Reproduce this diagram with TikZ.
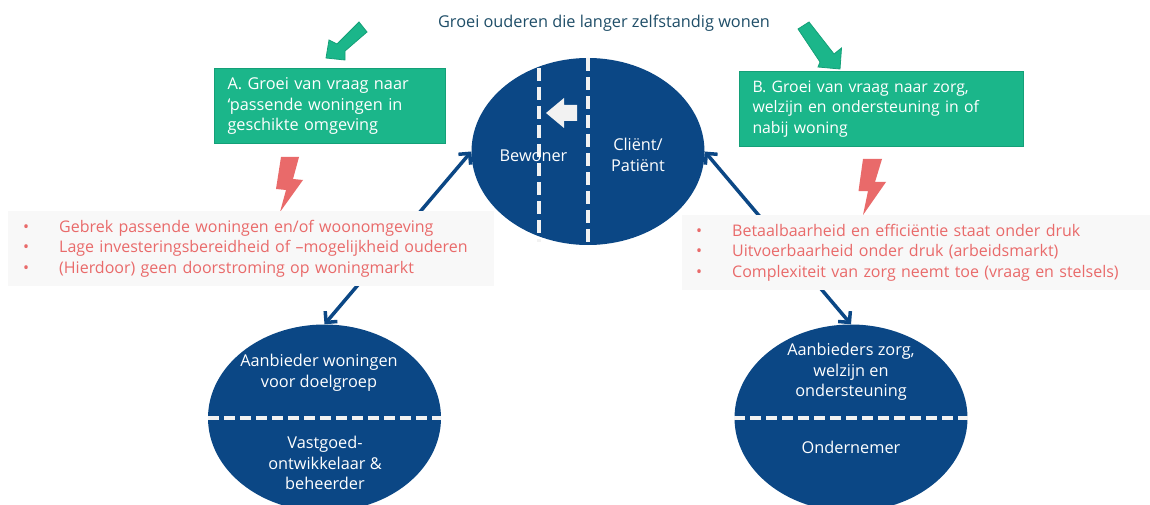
\documentclass[tikz,border=0pt]{standalone}
\usepackage{fontspec}
\setmainfont{Open Sans}
\usetikzlibrary{shapes.geometric,arrows.meta}
\definecolor{navy}{HTML}{0B4785}
\definecolor{grn}{HTML}{1BB68A}
\definecolor{grnd}{HTML}{14A078}
\definecolor{rd}{HTML}{E96A6A}
\definecolor{pale}{HTML}{F8F8F8}
\definecolor{ink}{HTML}{1F4E68}
\definecolor{dashw}{HTML}{F2F2F2}
\tikzset{
  txt/.style={font=\fontsize{16.3}{20.5}\selectfont,inner sep=0pt,align=left},
  blob/.style={ellipse,fill=navy,inner sep=0pt,minimum width=233pt,minimum height=187pt},
  blobtxt/.style={font=\fontsize{16.3}{20.5}\selectfont,inner sep=0pt,align=center,text=white},
  greenbox/.style={txt,draw=grnd,line width=1pt,fill=grn,text=white,anchor=north west,inner xsep=13pt},
  palebox/.style={txt,font=\fontsize{16}{20.5}\selectfont,fill=pale,text=rd,anchor=north west},
  link/.style={navy,line width=3.5pt,{Straight Barb[length=8pt,width=16pt,line width=3.5pt]}-{Straight Barb[length=8pt,width=16pt,line width=3.5pt]}},
  dashline/.style={dashw,line width=3.5pt,dash pattern=on 11pt off 5pt},
  bolt/.style={fill=rd},
  greenarrow/.style={fill=grn,draw=grnd,line width=.8pt},
}
\newcommand{\bul}{\makebox[36pt][l]{•}}
\begin{document}
\begin{tikzpicture}[x=1pt,y=-1pt]
\useasboundingbox (0,0) rectangle (1150,505);
\clip (0,0) rectangle (1150,505);
\fill[white] (0,0) rectangle (1150,505);
\node[blob] (top) at (588,151.5) {};
\node[blob] (bl) at (324.5,418) {};
\node[blob] (br) at (851,418) {};
\draw[link] (bl.north) -- (top.west);
\draw[link] (top.east) -- (br.north);
% dashed dividers
\coordinate (d1a) at (539,68);
\coordinate (d1b) at (539,242);
\draw[dashline,dash pattern=on 13pt off 6pt] (d1a) -- (d1b);
\draw[dashline,dash pattern=on 13pt off 6pt] (top.north) -- (top.south);
\draw[dashline] (bl.west) -- (bl.east);
\draw[dashline] (br.west) -- (br.east);
% white arrow
\fill[dashw] (546,113) -- (564,98) -- (564,105) -- (577,105) -- (577,121) -- (564,121) -- (564,128) -- cycle;
% green arrows
\draw[greenarrow] (359,22) -- (367,32) -- (345,51) -- (345,60) -- (326,58) -- (329,40) -- (337,44) -- cycle;
\draw[greenarrow] (809,22) -- (798,29) -- (820,62) -- (818,67) -- (840,69) -- (841.5,48) -- (834,54) -- cycle;
% lightning
\fill[bolt] (281,157) -- (299,157) -- (293,179) -- (303,180) -- (280,212) -- (286,190) -- (276,189) -- cycle;
\fill[bolt] (863,159) -- (882,159) -- (875,182) -- (886,182) -- (863,215) -- (868,191) -- (858.5,191) -- cycle;
% boxes
\node[greenbox,minimum width=231pt,minimum height=75pt,text width=205pt] (a) at (214,68) {A. Groei van vraag naar\\‘passende woningen in\\geschikte omgeving};
\node[greenbox,font=\fontsize{15.8}{20.5}\selectfont,minimum width=284pt,minimum height=75pt,text width=258pt] (b) at (739,71) {B. Groei van vraag naar zorg,\\welzijn en ondersteuning in of\\nabij woning};
\node[palebox,minimum width=486pt,minimum height=75pt,text width=456pt] (pl) at (8,211) {\bul Gebrek passende woningen en/of woonomgeving\\\bul Lage investeringsbereidheid of –mogelijkheid ouderen\\\bul (Hierdoor) geen doorstroming op woningmarkt};
\node[palebox,minimum width=468pt,minimum height=75pt,text width=440pt] (pr) at (682,215) {\bul Betaalbaarheid en efficiëntie staat onder druk\\\bul Uitvoerbaarheid onder druk (arbeidsmarkt)\\\bul Complexiteit van zorg neemt toe (vraag en stelsels)};
% texts
\node[txt,text=ink] (title) at (604,23) {Groei ouderen die langer zelfstandig wonen};
\node[blobtxt] (t1) at (533.5,156) {Bewoner};
\node[blobtxt] (t2) at (638,155) {Cliënt/\\Patiënt};
\node[blobtxt] (t3) at (319,373) {Aanbieder woningen\\voor doelgroep};
\node[blobtxt] (t4) at (325,463) {Vastgoed-\\ontwikkelaar \&\\beheerder};
\node[blobtxt] (t5) at (851,372) {Aanbieders zorg,\\welzijn en\\ondersteuning};
\node[blobtxt] (t6) at (851,447) {Ondernemer};
\end{tikzpicture}
\end{document}
